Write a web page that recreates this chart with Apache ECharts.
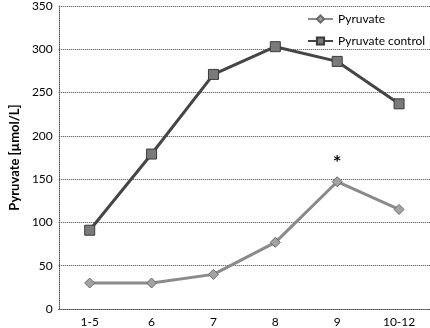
<!DOCTYPE html>
<html>
<head>
<meta charset="utf-8">
<script src="https://cdn.jsdelivr.net/npm/echarts@6/dist/echarts.min.js"></script>
<style>
html, body { margin: 0; padding: 0; background: #fff; }
#chart { width: 430px; height: 328px; }
</style>
</head>
<body>
<div id="chart"></div>
<script>
// categories and values
var groups = ['1-5', '6', '7', '8', '9', '10-12'];
var pyruvate = [30, 30, 40, 77, 147, 115];
var pyruvateControl = [91, 179, 271, 303, 286, 237];
var marks = ['', '', '', '', '*', ''];

var myChart = echarts.init(document.getElementById('chart'));
var fontName = 'Lato';

// asterisk labels for the significant points
var pyruvateData = [];
for (var i = 0; i < pyruvate.length; i++) {
    if (marks[i]) {
        pyruvateData.push({
            value: pyruvate[i],
            label: {
                show: true,
                position: 'top',
                distance: 8,
                formatter: marks[i],
                fontSize: 14,
                fontWeight: 'bold',
                color: '#000',
                fontFamily: 'DejaVu Sans'
            }
        });
    } else {
        pyruvateData.push(pyruvate[i]);
    }
}

var option = {
    animation: false,
    grid: {
        left: 47,
        right: 0,
        top: 5,
        bottom: 16
    },
    legend: {
        orient: 'vertical',
        left: 302,
        top: 8,
        itemGap: 10,
        itemWidth: 25,
        itemHeight: 9,
        textStyle: { fontFamily: fontName, fontSize: 12, color: '#000' },
        data: ['Pyruvate', 'Pyruvate control']
    },
    xAxis: {
        type: 'category',
        data: groups,
        boundaryGap: true,
        axisLine: { lineStyle: { color: '#555', type: 'dotted', width: 1 } },
        axisTick: { show: false },
        axisLabel: { fontFamily: fontName, fontSize: 12, color: '#000', margin: 7 }
    },
    yAxis: {
        type: 'value',
        min: 0,
        max: 350,
        interval: 50,
        name: 'Pyruvate [µmol/L]',
        nameLocation: 'middle',
        nameGap: 32,
        nameTextStyle: { fontFamily: fontName, fontSize: 13, fontWeight: 'bold', color: '#000' },
        axisLine: { show: true, lineStyle: { color: '#555', type: 'dotted', width: 1 } },
        axisTick: { show: false },
        axisLabel: { fontFamily: fontName, fontSize: 12, color: '#000', margin: 6 },
        splitLine: { lineStyle: { color: '#444', type: 'dotted', width: 1 } }
    },
    series: [{
        name: 'Pyruvate',
        type: 'line',
        data: pyruvateData,
        symbol: 'diamond',
        symbolSize: 10,
        lineStyle: { color: '#8a8a8a', width: 3 },
        itemStyle: { color: '#a3a3a3', borderColor: '#6a6a6a', borderWidth: 1 }
    }, {
        name: 'Pyruvate control',
        type: 'line',
        data: pyruvateControl,
        symbol: 'rect',
        symbolSize: 10,
        lineStyle: { color: '#454545', width: 3 },
        itemStyle: { color: '#7a7a7a', borderColor: '#3a3a3a', borderWidth: 1 }
    }]
};

myChart.setOption(option);
</script>
</body>
</html>
